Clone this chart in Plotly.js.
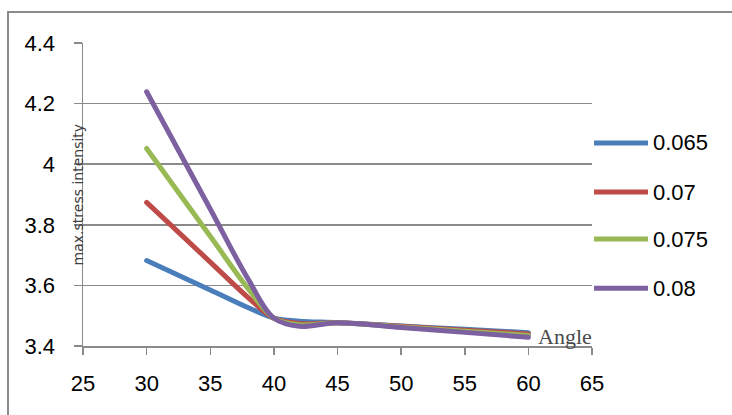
<!DOCTYPE html>
<html>
<head>
<meta charset="utf-8">
<script src="https://cdn.plot.ly/plotly-3.0.1.min.js"></script>
<style>
  html, body { margin: 0; padding: 0; background: #ffffff; }
  #wrap { position: relative; width: 732px; height: 415px; overflow: hidden; }
  #chart { position: absolute; left: 0; top: 0; width: 732px; height: 415px; }
  #frame { position: absolute; left: 7px; top: 11px; width: 760px; height: 450px;
           border-left: 2px solid #8a8a8a; border-top: 2px solid #8a8a8a; pointer-events: none; }
  .scatterlayer path.js-line { stroke-linecap: round; stroke-linejoin: round; }
</style>
</head>
<body>
<div id="wrap"><div id="chart"></div><div id="frame"></div></div>
<script>
// ---- data ----
const angle = [30, 35, 38, 40, 42, 45, 50, 55, 60];
const s0065 = [3.682, 3.585, 3.526, 3.492, 3.482, 3.477, 3.466, 3.455, 3.444];
const s007  = [3.874, 3.677, 3.559, 3.492, 3.474, 3.477, 3.465, 3.452, 3.440];
const s0075 = [4.052, 3.762, 3.588, 3.492, 3.470, 3.477, 3.463, 3.449, 3.435];
const s008  = [4.239, 3.852, 3.619, 3.492, 3.465, 3.477, 3.461, 3.445, 3.429];
const seriesNames = ['0.065', '0.07', '0.075', '0.08'];
const seriesColors = ['#4a7ebb', '#be4b48', '#98b954', '#7d60a0'];
const xTickVals = [25, 30, 35, 40, 45, 50, 55, 60, 65];
const yTickVals = [3.4, 3.6, 3.8, 4, 4.2, 4.4];
const xTitle = 'Angle';
const yTitle = 'max.stress intensity';

const allSeries = [s0065, s007, s0075, s008];
const traces = allSeries.map((ys, i) => ({
  x: angle, y: ys, type: 'scatter', mode: 'lines', name: seriesNames[i],
  line: { color: seriesColors[i], width: 5, shape: 'spline', smoothing: 1 },
  showlegend: false, hoverinfo: 'skip'
}));

// custom legend (long line samples like the reference)
const legY = [0.670, 0.508, 0.353, 0.191];
const shapes = seriesNames.map((n, i) => ({
  type: 'line', xref: 'paper', yref: 'paper',
  x0: 1.004, x1: 1.110, y0: legY[i], y1: legY[i],
  line: { color: seriesColors[i], width: 5 }
}));
const annotations = seriesNames.map((n, i) => ({
  xref: 'paper', yref: 'paper', x: 1.116, y: legY[i], xanchor: 'left', yanchor: 'middle',
  text: n, showarrow: false, font: { family: 'Liberation Sans, Arial, sans-serif', size: 22, color: '#000' }
}));
annotations.push({
  xref: 'paper', yref: 'paper', x: -0.010, y: 0.5, xanchor: 'center', yanchor: 'middle',
  text: yTitle, textangle: -90, showarrow: false,
  font: { family: 'DejaVu Sans, sans-serif', size: 14, color: '#404040' }
});
annotations.push({
  xref: 'paper', yref: 'paper', x: 0.947, y: 0.03, xanchor: 'center', yanchor: 'middle',
  text: xTitle, showarrow: false,
  font: { family: 'Liberation Serif, Times New Roman, serif', size: 22, color: '#4a4a4a' }
});

const gridCol = '#8a8a8a';
const layout = {
  width: 732, height: 415,
  margin: { l: 83, r: 140, t: 43, b: 69, pad: 0 },
  paper_bgcolor: '#ffffff', plot_bgcolor: '#ffffff',
  showlegend: false,
  xaxis: {
    range: [25, 65], tickvals: xTickVals, ticktext: xTickVals.map(String),
    showgrid: false, zeroline: false,
    showline: true, linecolor: gridCol, linewidth: 1.5,
    ticks: 'outside', ticklen: 7, tickcolor: gridCol, tickwidth: 1.5,
    ticklabelstandoff: 10,
    tickfont: { family: 'Liberation Sans, Arial, sans-serif', size: 22, color: '#000' }
  },
  yaxis: {
    range: [3.4, 4.4], tickvals: yTickVals, ticktext: yTickVals.map(String),
    showgrid: true, gridcolor: gridCol, gridwidth: 1.5, zeroline: false,
    showline: true, linecolor: gridCol, linewidth: 1.5,
    ticks: 'outside', ticklen: 8, tickcolor: gridCol, tickwidth: 1.5,
    ticklabelstandoff: 14,
    tickfont: { family: 'Liberation Sans, Arial, sans-serif', size: 22, color: '#000' }
  },
  shapes: shapes,
  annotations: annotations
};

Plotly.newPlot('chart', traces, layout, { staticPlot: true, displayModeBar: false });
</script>
</body>
</html>
